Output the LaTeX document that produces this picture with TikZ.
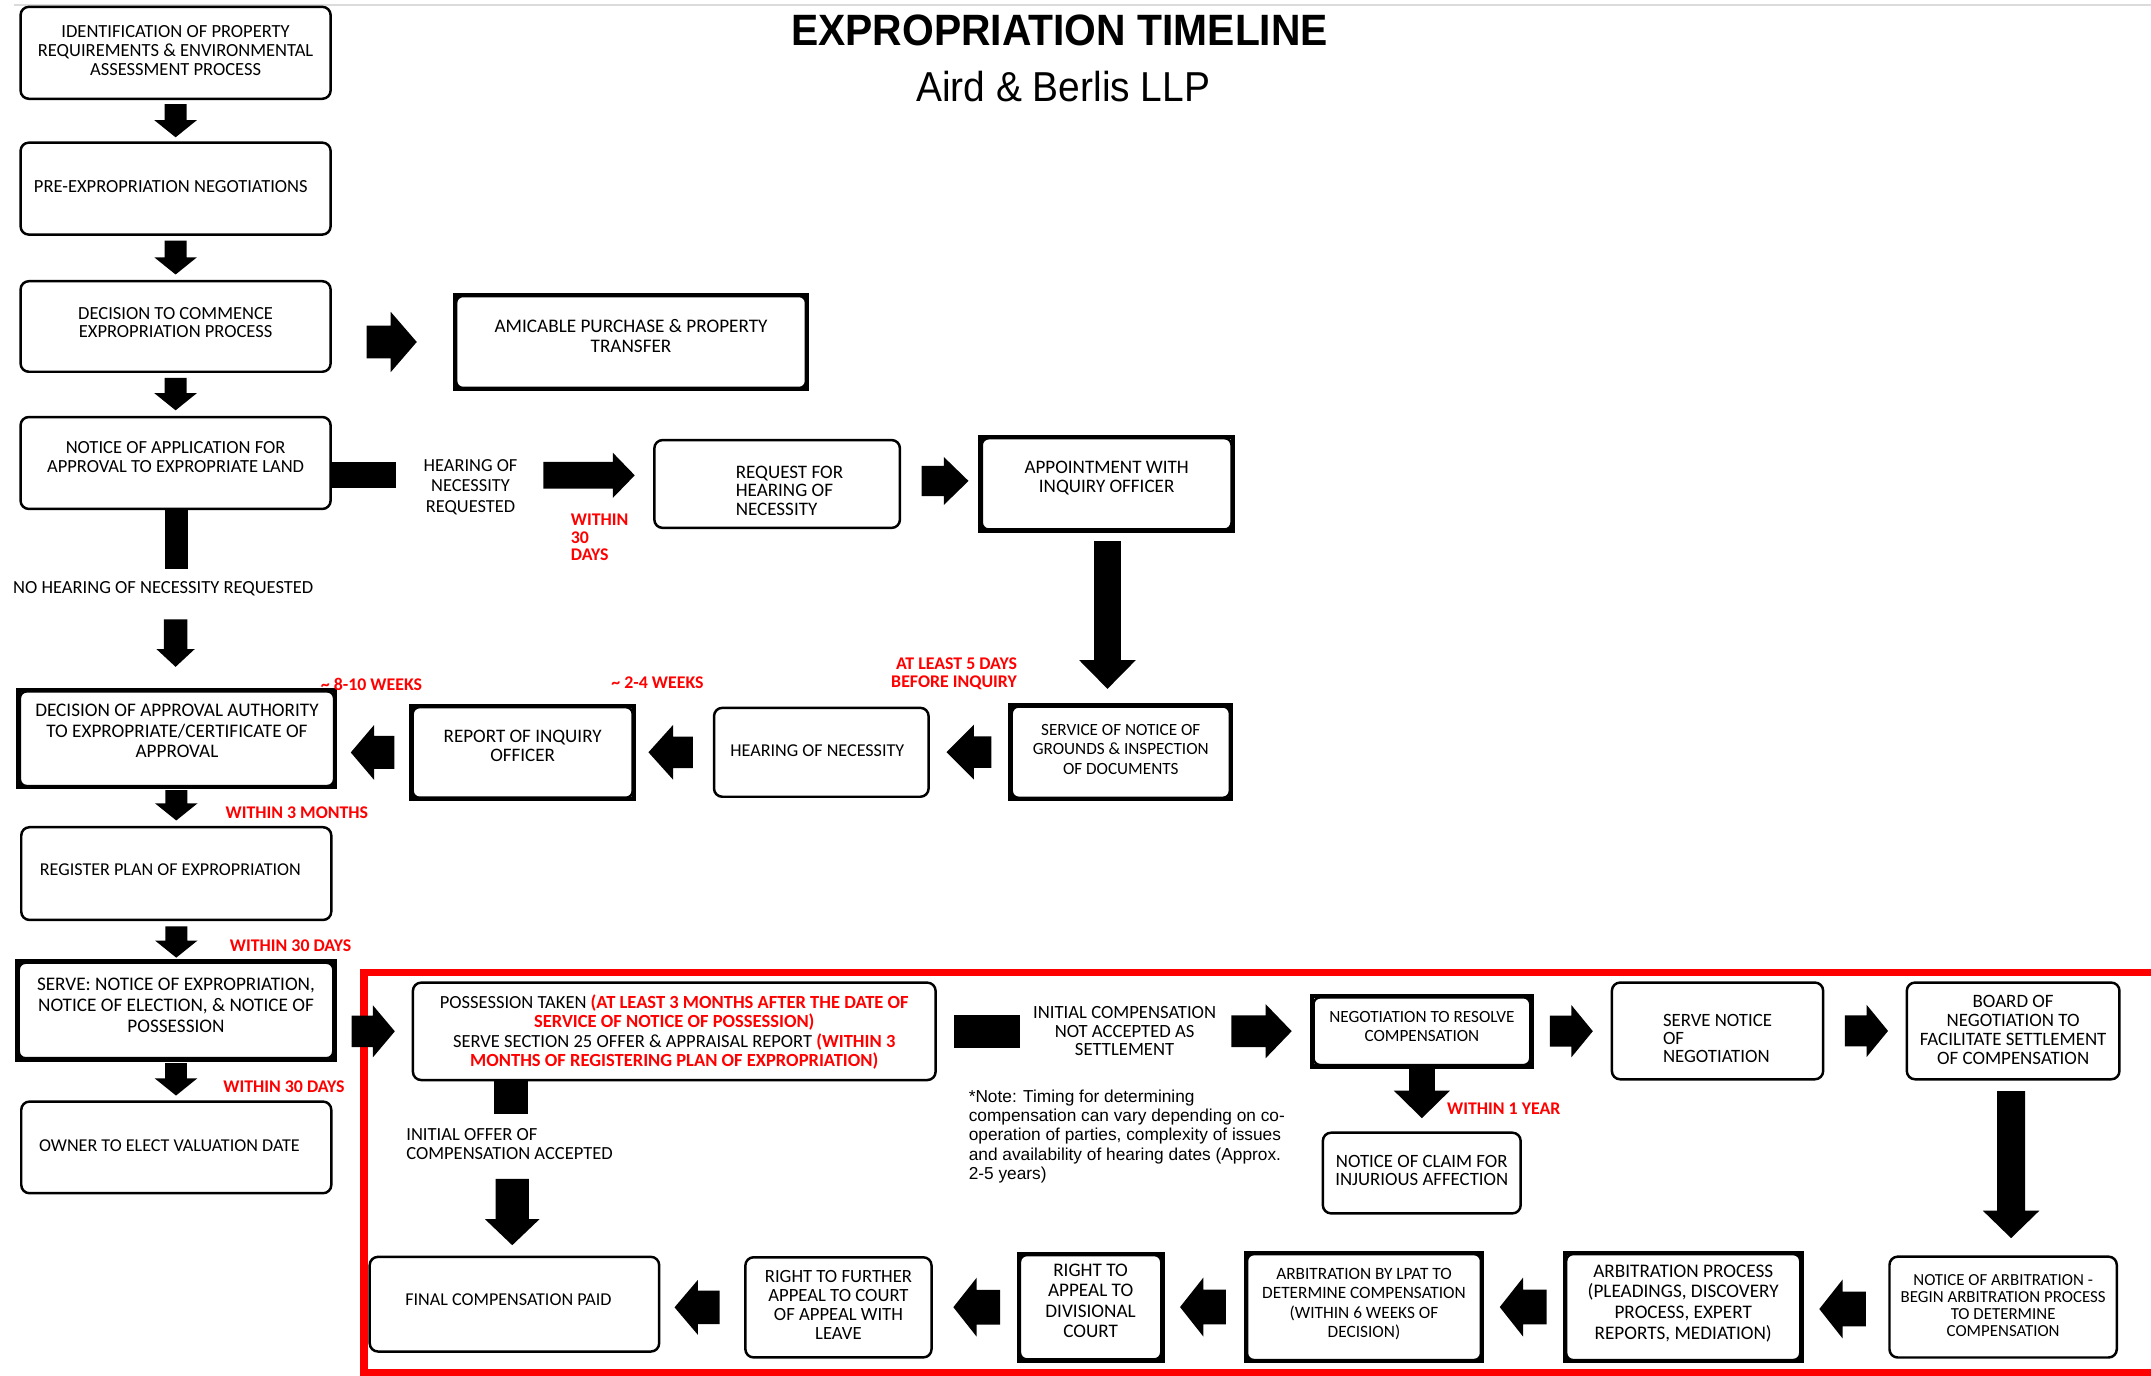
\documentclass[tikz,border=0pt]{standalone}
\usepackage{fontspec}
\setmainfont{Carlito}
\newfontfamily\notefont{Liberation Sans}
\newfontfamily\titlefont{Liberation Sans}[FakeStretch=0.93]
\usetikzlibrary{calc}

\definecolor{hotred}{HTML}{FF0000}
\newcommand\fsz[2]{\fontsize{#1}{#2}\selectfont}
% box text block, moved by (#2 right, #3 up) without changing the box
\newcommand\nudge[4][c]{\hspace*{#2}\raisebox{#3}[\height][\depth]{\begin{tabular}{@{}#1@{}}#4\end{tabular}}\hspace*{-#2}}
\newcommand\hot[1]{\textcolor{hotred}{\bfseries #1}}

% block connectors: #1 start, #2 tip, #3 shaft half width, #4 head half width, #5 head length
\newcommand\blkH[5]{\fill let \p1=#1, \p2=#2, \n1={sign(\x2-\x1)} in
    (\x1,\y1-#3pt) -- (\x2-\n1*#5pt,\y1-#3pt) -- (\x2-\n1*#5pt,\y1-#4pt) -- (\x2,\y1)
    -- (\x2-\n1*#5pt,\y1+#4pt) -- (\x2-\n1*#5pt,\y1+#3pt) -- (\x1,\y1+#3pt) -- cycle;}
\newcommand\blkV[5]{\fill let \p1=#1, \p2=#2, \n1={sign(\y2-\y1)} in
    (\x1-#3pt,\y1) -- (\x1-#3pt,\y2-\n1*#5pt) -- (\x1-#4pt,\y2-\n1*#5pt) -- (\x1,\y2)
    -- (\x1+#4pt,\y2-\n1*#5pt) -- (\x1+#3pt,\y2-\n1*#5pt) -- (\x1+#3pt,\y1) -- cycle;}
% plain bars: #1 start, #2 end, #3 half width
\newcommand\barH[3]{\fill let \p1=#1, \p2=#2 in (\x1,\y1-#3pt) rectangle (\x2,\y1+#3pt);}
\newcommand\barV[3]{\fill let \p1=#1, \p2=#2 in (\x1-#3pt,\y1) rectangle (\x1+#3pt,\y2);}

\tikzset{
  box/.style={draw=black, line width=1.8pt, rounded corners=6pt, fill=white, inner sep=0pt},
  tbox/.style={box, rounded corners=5pt},
  sz/.style 2 args={minimum width=#1pt, minimum height=#2pt},
  fs/.style 2 args={font=\fsz{#1}{#2}},
  lbl/.style={inner sep=0pt, align=center, font=\fsz{13.5}{14}},
  rlbl/.style={inner sep=0pt, align=center, text=hotred, font=\bfseries\fsz{13}{12.8}},
}

\begin{document}
\begin{tikzpicture}[x=1pt,y=-1pt]
\useasboundingbox (0,0) rectangle (1568,1003);
\fill[white] (0,0) rectangle (1568,1003);
\draw[black!14, line width=1pt] (10,3.6) -- (1568,3.6);

% heading
\node[font=\titlefont\bfseries\fsz{32}{32}] (title) at (772.4,22.5) {EXPROPRIATION TIMELINE};
\node[font=\titlefont\fsz{30.5}{30.5}] (firm) at (775,63.2) {Aird \& Berlis LLP};

% compensation stage frame
\draw[hotred, line width=5.5pt] (1568,709) -- (265.5,709) -- (265.5,1001) -- (1568,1001);

% left column
\node[box, sz={226}{67}, fs={13.5}{14}] (b1) at (128,38.5)
  {\nudge{0pt}{0pt}{IDENTIFICATION OF PROPERTY\\REQUIREMENTS \& ENVIRONMENTAL\\ASSESSMENT PROCESS}};
\node[box, sz={226}{67}, fs={13.5}{14}] (b2) at (128,137.5)
  {\nudge{-3.5pt}{0pt}{PRE-EXPROPRIATION NEGOTIATIONS}};
\node[box, sz={226}{66}, fs={13.5}{13}] (b3) at (128,238)
  {\nudge{0pt}{1pt}{DECISION TO COMMENCE\\EXPROPRIATION PROCESS}};
\node[box, sz={226}{67}, fs={13.5}{14}] (b4) at (128,337.5)
  {\nudge{0pt}{3pt}{NOTICE OF APPLICATION FOR\\APPROVAL TO EXPROPRIATE LAND}};
\node[tbox, sz={229}{69}, fs={14}{15}] (dec) at (129,538.5)
  {\nudge{0pt}{4pt}{DECISION OF APPROVAL AUTHORITY\\TO EXPROPRIATE/CERTIFICATE OF\\APPROVAL}};
\node[box, sz={226}{67.6}, fs={13.2}{14}] (reg) at (128.5,636.8)
  {\nudge{-4.3pt}{1.7pt}{REGISTER PLAN OF EXPROPRIATION}};
\node[tbox, sz={229.3}{69.6}, fs={14}{15.3}] (srv) at (128.3,736.6)
  {\nudge{0pt}{2.3pt}{SERVE: NOTICE OF EXPROPRIATION,\\NOTICE OF ELECTION, \& NOTICE OF\\POSSESSION}};
\node[box, sz={226}{66.8}, fs={13.2}{14}] (own) at (128.5,836.4)
  {\nudge{-5pt}{0pt}{OWNER TO ELECT VALUATION DATE}};

% hearing of necessity branch
\node[tbox, sz={255}{67}, fs={14}{14.5}] (amic) at (460,249.3)
  {\nudge{0pt}{2.8pt}{AMICABLE PURCHASE \& PROPERTY\\TRANSFER}};
\node[box, sz={179}{64}, fs={13.9}{13.2}] (req) at (566.5,352.8)
  {\nudge[l]{9pt}{-6.8pt}{REQUEST FOR\\HEARING OF\\NECESSITY}};
\node[tbox, sz={182}{66.5}, fs={13.9}{14}] (appt) at (806.7,352.7)
  {\nudge{0pt}{3.2pt}{APPOINTMENT WITH\\INQUIRY OFFICER}};
\node[tbox, sz={159}{66.5}, fs={12.5}{14}] (serv) at (817,548.3)
  {\nudge{0pt}{0.8pt}{SERVICE OF NOTICE OF\\GROUNDS \& INSPECTION\\OF DOCUMENTS}};
\node[box, sz={156.4}{64.8}, fs={13.2}{14}] (hear) at (598.7,548.4)
  {\nudge{-2.9pt}{0pt}{HEARING OF NECESSITY}};
\node[tbox, sz={160.4}{66}, fs={13.9}{14}] (rep) at (381,548.5)
  {\nudge{0pt}{3pt}{REPORT OF INQUIRY\\OFFICER}};

% compensation stage
\node[box, sz={381}{71}, fs={13.5}{13.8}] (poss) at (491.5,751.8)
  {\nudge{0pt}{-1.5pt}{POSSESSION TAKEN \hot{(AT LEAST 3 MONTHS AFTER THE DATE OF}\\
   \hot{SERVICE OF NOTICE OF POSSESSION)}\\
   SERVE SECTION 25 OFFER \& APPRAISAL REPORT \hot{(WITHIN 3}\\
   \hot{MONTHS OF REGISTERING PLAN OF EXPROPRIATION)}}};
\node[tbox, sz={158}{49.4}, fs={12.5}{13.8}] (nego) at (1036.5,751.7)
  {\nudge{0pt}{2.1pt}{NEGOTIATION TO RESOLVE\\COMPENSATION}};
\node[box, sz={154}{70.5}, fs={13.7}{13}] (sn) at (1252,751.5)
  {\nudge[l]{0pt}{-7.3pt}{SERVE NOTICE\\OF\\NEGOTIATION}};
\node[box, sz={155}{70.5}, fs={13.8}{13.9}] (board) at (1467.5,751.5)
  {\nudge{0pt}{-0.8pt}{BOARD OF\\NEGOTIATION TO\\FACILITATE SETTLEMENT\\OF COMPENSATION}};
\node[box, sz={144.2}{58.8}, fs={13.7}{12.9}] (claim) at (1036.4,855.1)
  {\nudge{0pt}{0pt}{NOTICE OF CLAIM FOR\\INJURIOUS AFFECTION}};
\node[box, sz={165.7}{73.5}, fs={12.3}{12.4}] (narb) at (1460.2,952.8)
  {\nudge{0pt}{-0.4pt}{NOTICE OF ARBITRATION -\\BEGIN ARBITRATION PROCESS\\TO DETERMINE\\COMPENSATION}};
\node[tbox, sz={170.6}{77.2}, fs={14}{15.2}] (arbp) at (1227,952.8)
  {\nudge{0pt}{2.1pt}{ARBITRATION PROCESS\\(PLEADINGS, DISCOVERY\\PROCESS, EXPERT\\REPORTS, MEDIATION)}};
\node[tbox, sz={170.5}{77.2}, fs={12.6}{14}] (lpat) at (994.3,952.8)
  {\nudge{0pt}{1.8pt}{ARBITRATION BY LPAT TO\\DETERMINE COMPENSATION\\(WITHIN 6 WEEKS OF\\DECISION)}};
\node[tbox, sz={103}{76}, fs={14}{15}] (divc) at (795,952.9)
  {\nudge{0pt}{3.1pt}{RIGHT TO\\APPEAL TO\\DIVISIONAL\\COURT}};
\node[box, sz={135.7}{73}, fs={13.6}{14}] (furth) at (611.2,953)
  {\nudge{0pt}{0pt}{RIGHT TO FURTHER\\APPEAL TO COURT\\OF APPEAL WITH\\LEAVE}};
\node[box, sz={211}{69}, fs={13.2}{14}] (final) at (375,950.7)
  {\nudge{-4.4pt}{1.5pt}{FINAL COMPENSATION PAID}};

% square outer frames of the heavy boxes
\foreach \n in {amic,appt,serv,rep,dec,srv,nego,arbp,lpat,divc}
  \draw[line width=3.2pt] (\n.south west) rectangle (\n.north east);

% labels between connector pieces
\node[lbl, font=\fsz{13.4}{15}] (hnr) at (343,355) {HEARING OF\\NECESSITY\\REQUESTED};
\node[lbl] (nohear) at (119,429) {NO HEARING OF NECESSITY REQUESTED};
\node[lbl, font=\fsz{13.6}{13.7}] (initcomp) at (819.8,751.7) {INITIAL COMPENSATION\\NOT ACCEPTED AS\\SETTLEMENT};
\node[lbl, align=left, anchor=west, font=\fsz{13.5}{13.2}] (initoffer) at (296,834) {INITIAL OFFER OF\\COMPENSATION ACCEPTED};
\node[inner sep=0pt, align=left, anchor=west, font=\notefont\fsz{12.6}{14.1}] (note) at (706,828.3)
  {*Note: Timing for determining\\compensation can vary depending on co-\\operation of parties, complexity of issues\\and availability of hearing dates (Approx.\\2-5 years)};

% timing notes
\node[rlbl, align=left, anchor=west] (w30a) at (416,391.8) {WITHIN\\30\\DAYS};
\node[rlbl, align=right, anchor=east] (atl5) at (741.5,491.2) {AT LEAST 5 DAYS\\BEFORE INQUIRY};
\node[rlbl] (w24) at (479.3,498) {\textasciitilde\ 2-4 WEEKS};
\node[rlbl] (w810) at (270.8,498.6) {\textasciitilde\ 8-10 WEEKS};
\node[rlbl] (w3m) at (216.4,592.4) {WITHIN 3 MONTHS};
\node[rlbl] (w30b) at (211.8,689.4) {WITHIN 30 DAYS};
\node[rlbl] (w30c) at (207,792.4) {WITHIN 30 DAYS};
\node[rlbl] (w1y) at (1096.2,808.2) {WITHIN 1 YEAR};

% connectors: left column
\blkV{($(b1.south)+(0,3)$)}{($(b2.north)+(0,-3)$)}{8}{15.5}{12.5}
\blkV{($(b2.south)+(0,3.5)$)}{($(b3.north)+(0,-4)$)}{8}{15.5}{12.5}
\blkV{($(b3.south)+(0,3.5)$)}{($(b4.north)+(0,-4)$)}{8}{15.5}{12.5}
\barV{($(b4.south)+(0.5,0)$)}{($(nohear.north)+(0,-8.6)$)}{8.5}
\blkV{($(dec.north |- nohear.south)+(-1,17)$)}{($(dec.north)+(0,-17)$)}{8.5}{14}{13}
\blkV{($(dec.south)+(-0.5,2)$)}{($(reg.north)+(0,-4)$)}{8}{15.5}{12.5}
\blkV{($(reg.south)+(0,3.7)$)}{($(srv.north)+(0,-2.8)$)}{8}{15.5}{12.5}
\blkV{($(srv.south)+(0,2.6)$)}{($(own.north)+(0,-3.5)$)}{8}{15.5}{12.5}

% connectors: hearing of necessity branch
\blkH{($(b3.east |- amic.west)+(25.4,0)$)}{($(amic.west)+(-27.8,0)$)}{12}{22}{19}
\barH{($(b4.east)+(0,8.75)$)}{($(hnr.west)+(-19.8,0)$)}{9.75}
\blkH{($(hnr.east)+(18.7,-8.5)$)}{($(req.west)+(-13.4,0)$)}{9.75}{16.5}{16}
\blkH{($(req.east)+(15,-2.2)$)}{($(appt.west)+(-8.8,0)$)}{11}{17.5}{18}
\blkV{($(appt.south)+(0.6,7.6)$)}{($(serv.north)+(0,-12)$)}{9.8}{20.7}{21}
\blkH{($(serv.west)+(-13.9,0)$)}{($(hear.east)+(12.1,0)$)}{11.5}{20}{20}
\blkH{($(hear.west)+(-14.5,0)$)}{($(rep.east)+(10.6,0)$)}{11.5}{20}{18}
\blkH{($(rep.west)+(-12.5,0)$)}{($(dec.east)+(11.3,0)$)}{12}{20}{17}

% connectors: compensation stage
\blkH{($(srv.east |- poss.west)+(12.5,0)$)}{($(poss.west)+(-12.3,0)$)}{11.5}{19}{16}
\barH{($(poss.east)+(12.5,0)$)}{($(initcomp.west)+(-9.2,0)$)}{12}
\blkH{($(initcomp.east)+(11,0)$)}{($(nego.west)+(-15,0)$)}{11.6}{19.7}{19}
\blkH{($(nego.east)+(13.4,0)$)}{($(sn.west)+(-13,0)$)}{11.3}{19}{15.6}
\blkH{($(sn.east)+(15,0)$)}{($(board.west)+(-12.8,0)$)}{11.3}{19}{15.6}
\blkV{($(nego.south)+(0,1.6)$)}{($(claim.north)+(0,-9.7)$)}{9.4}{20.4}{20}
\blkV{($(board.south)+(-1.5,7.8)$)}{($(narb.north)+(0,-12.6)$)}{10.2}{20.6}{20}
\blkH{($(narb.west)+(-16.3,1.4)$)}{($(arbp.east)+(13,0)$)}{12.7}{21.5}{17}
\blkH{($(arbp.west)+(-13.3,0)$)}{($(lpat.east)+(12.8,0)$)}{12.7}{21.5}{17}
\blkH{($(lpat.west)+(-14.5,0)$)}{($(divc.east)+(12.8,0)$)}{12.7}{21.5}{17}
\blkH{($(divc.west)+(-13.5,0)$)}{($(furth.east)+(15,0)$)}{12.7}{21.5}{17}
\blkH{($(furth.west)+(-17.8,0)$)}{($(final.east)+(10.3,0)$)}{12.2}{20}{17}
\barV{($(poss.south west)+(72.4,0)$)}{($(initoffer.north)+(0,-11)$)}{12.2}
\blkV{($(final.north |- initoffer.south)+(-1.6,14.2)$)}{($(final.north)+(0,-7.6)$)}{12.2}{19.9}{19}
\end{tikzpicture}
\end{document}
